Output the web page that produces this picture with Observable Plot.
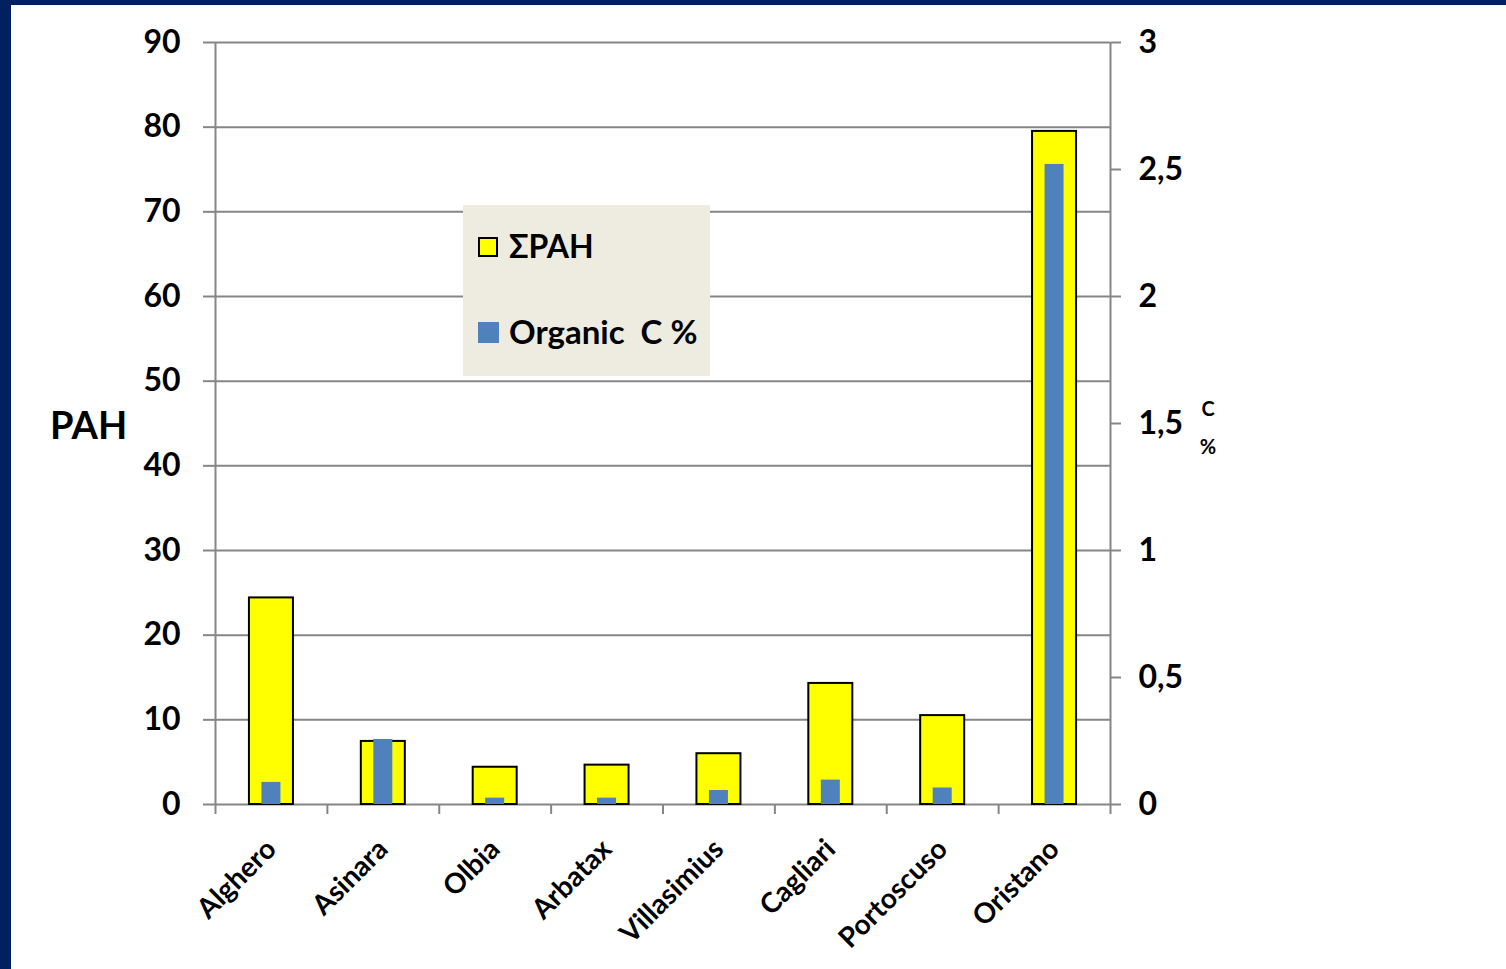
<!DOCTYPE html>
<html>
<head>
<meta charset="utf-8">
<script src="https://cdn.jsdelivr.net/npm/d3@7"></script>
<script src="https://cdn.jsdelivr.net/npm/@observablehq/plot@0.6"></script>
<style>
  html, body { margin: 0; padding: 0; }
  body { width: 1506px; height: 969px; background: #002060; position: relative; overflow: hidden;
         font-family: Lato, "Open Sans", sans-serif; font-weight: 700; color: #000; }
  #chart { position: absolute; left: 11px; top: 5px; width: 1495px; height: 964px; background: #fff; }
  #chart svg { display: block; }
  .lbl { position: absolute; line-height: 1; white-space: pre; }
  #legend { position: absolute; left: 463px; top: 205px; width: 247px; height: 171px; background: #EEECE1; }
  .sw { position: absolute; width: 20px; height: 20px; box-sizing: border-box; }
</style>
</head>
<body>
<div id="chart"></div>

<div class="lbl" style="left:50px; top:405px; font-size:38px;">PAH</div>
<div class="lbl" style="left:1198px; top:398px; width:20px; text-align:center; font-size:20px;">C</div>
<div class="lbl" style="left:1198px; top:436px; width:20px; text-align:center; font-size:20px;">%</div>

<div id="legend">
  <div class="sw" style="left:15px; top:32px; background:#FFFF00; border:2px solid #000;"></div>
  <div class="lbl" style="left:46px; top:25px; font-size:32px;">ΣPAH</div>
  <div class="sw" style="left:15px; top:117px; width:21px; height:21px; background:#4F81BD;"></div>
  <div class="lbl" style="left:46px; top:110px; font-size:33px;">Organic  C %</div>
</div>

<script>
// Sampling sites along the Sardinian coast
const sites = ["Alghero", "Asinara", "Olbia", "Arbatax", "Villasimius", "Cagliari", "Portoscuso", "Oristano"];
// Total polycyclic aromatic hydrocarbons (left axis)
const pahValues = [24.4, 7.45, 4.4, 4.65, 6.0, 14.3, 10.5, 79.5];
// Organic carbon, percent (right axis)
const organicC = [0.087, 0.256, 0.025, 0.025, 0.055, 0.096, 0.065, 2.52];
// Axis ticks
const pahTicks = [0, 10, 20, 30, 40, 50, 60, 70, 80, 90];
const cTicks = [0, 0.5, 1, 1.5, 2, 2.5, 3];

const pahMax = 90;
const cMax = 3;
const cToPah = pahMax / cMax; // right axis shares the left scale

const rows = sites.map((site, i) => ({site, i, pah: pahValues[i], c: organicC[i]}));
const boundaries = d3.range(sites.length + 1);
const fmtComma = d => String(d).replace(".", ",");

const W = 1495, H = 964;
const mL = 204, mR = 396, mT = 37, mB = 165;
const band = (W - mL - mR) / sites.length;
const textStyle = {fontFamily: "Lato, 'Open Sans', sans-serif", fontWeight: 700, fontSize: 32, fill: "#000"};
const gray = "#868686";

const chart = Plot.plot({
  width: W,
  height: H,
  marginLeft: mL,
  marginRight: mR,
  marginTop: mT,
  marginBottom: mB,
  style: {background: "transparent", overflow: "visible"},
  x: {domain: [0, sites.length], label: null},
  y: {domain: [0, pahMax], label: null},
  marks: [
    // horizontal gridlines
    Plot.ruleY(pahTicks, {stroke: gray, strokeWidth: 2}),
    // left and right axis lines
    Plot.ruleX([0, sites.length], {y1: 0, y2: pahMax, stroke: gray, strokeWidth: 2}),
    // category boundary ticks below the baseline
    Plot.axisX(boundaries, {tickSize: 10, stroke: gray, strokeWidth: 2, tickFormat: () => "", label: null}),
    // left axis (PAH)
    Plot.axisY(pahTicks, {anchor: "left", tickSize: 12, tickPadding: 23, stroke: gray, strokeWidth: 2, label: null, ...textStyle}),
    // right axis (organic C %)
    Plot.axisY(cTicks.map(t => t * cToPah), {
      anchor: "right", tickSize: 10, tickPadding: 18, stroke: gray, strokeWidth: 2, label: null,
      tickFormat: d => fmtComma(d / cToPah), ...textStyle
    }),
    // ΣPAH bars
    Plot.rectY(rows, {
      x1: "i", x2: d => d.i + 1, y: "pah",
      insetLeft: (band - 44) / 2, insetRight: (band - 44) / 2,
      fill: "#FFFF00", stroke: "#000", strokeWidth: 2
    }),
    // Organic C bars, scaled onto the right axis
    Plot.rectY(rows, {
      x1: "i", x2: d => d.i + 1, y: d => d.c * cToPah,
      insetLeft: (band - 19) / 2, insetRight: (band - 19) / 2,
      fill: "#4F81BD"
    }),
    // rotated site names
    Plot.text(rows, {
      x: d => d.i + 0.5, y: 0, text: "site",
      rotate: -45, textAnchor: "end", lineAnchor: "middle",
      dx: 0, dy: 40, ...textStyle, fontSize: 28
    })
  ]
});

document.getElementById("chart").appendChild(chart);
</script>
</body>
</html>
